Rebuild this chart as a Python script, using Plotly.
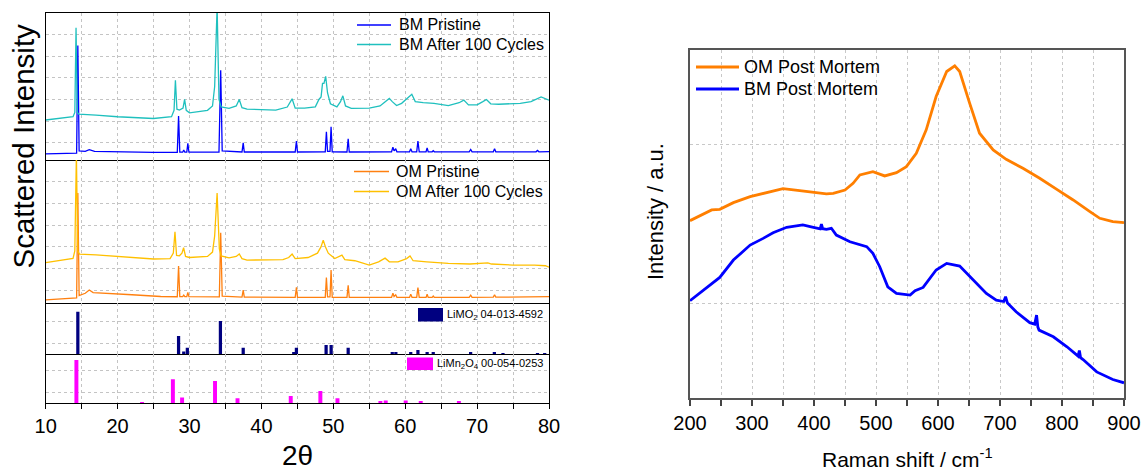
import plotly.graph_objects as go

W, H = 1146, 472
FONT = "Liberation Sans, Arial, sans-serif"

# ---------------- XRD data (2theta) ----------------
bm_pristine_x = [10, 14.3, 14.47, 14.65, 15.5, 16.06, 16.8, 20, 25, 28.3, 28.48, 28.65, 29.05, 29.2, 29.35, 29.62, 29.77, 29.92,
                 34.1, 34.34, 34.55, 37.3, 37.47, 37.62, 44.7, 44.87, 45.02, 48.88, 49.04, 49.2, 49.54, 49.69, 49.85,
                 51.9, 52.07, 52.22, 58.1, 58.29, 58.45, 58.68, 58.85, 60.6, 60.77, 60.95, 61.6, 61.77, 61.95,
                 62.9, 63.05, 63.2, 63.75, 63.9, 64.05, 68.9, 69.11, 69.3, 72.25, 72.43, 72.6, 78.2, 78.4, 78.6, 80]
bm_pristine_y = [0.48, 0.52, 5.50, 0.62, 0.6, 0.68, 0.6, 0.57, 0.55, 0.55, 2.23, 0.56, 0.56, 0.66, 0.56, 0.56, 0.97, 0.56,
                 0.57, 4.35, 0.62, 0.57, 1.0, 0.57, 0.57, 1.08, 0.57, 0.58, 1.51, 0.6, 0.6, 1.74, 0.58,
                 0.57, 1.18, 0.57, 0.58, 0.79, 0.62, 0.72, 0.58, 0.58, 0.72, 0.58, 0.58, 1.08, 0.58,
                 0.58, 0.76, 0.58, 0.58, 0.63, 0.58, 0.58, 0.69, 0.58, 0.58, 0.72, 0.58, 0.58, 0.64, 0.58, 0.59]

bm_cycled_x = [10, 12, 13.8, 14.05, 14.22, 14.4, 14.6, 17, 20, 25, 27.5, 27.85, 28.04, 28.25, 28.6, 29.1, 29.32, 29.55, 30,
               32.5, 33.2, 33.5, 33.84, 34.1, 34.4, 35.5, 36.5, 36.92, 37.3, 38, 42, 43.6, 44.27, 44.7, 46, 47.5, 48.0,
               48.3, 48.5, 48.7, 48.94, 49.2, 49.6, 50.5, 51.0, 51.33, 51.7, 52.5, 55, 56.5, 57.5, 57.79, 58.2, 58.8,
               59.5, 60.5, 60.92, 61.4, 62.5, 64, 66, 67.5, 68.15, 68.8, 70, 70.8, 71.3, 71.9, 73, 76, 77.5, 78.9, 79.5, 80]
bm_cycled_y = [2.05, 2.12, 2.2, 2.4, 6.32, 2.4, 2.32, 2.28, 2.2, 2.12, 2.2, 2.5, 3.89, 2.55, 2.51, 2.6, 3.0, 2.5, 2.38,
               2.5, 2.7, 3.6, 7.3, 3.0, 2.66, 2.59, 2.7, 3.0, 2.62, 2.55, 2.51, 2.65, 3.03, 2.6, 2.6, 2.66, 3.0,
               3.12, 3.74, 3.74, 4.07, 3.3, 2.8, 2.66, 2.9, 3.17, 2.7, 2.59, 2.6, 2.7, 3.0, 3.05, 2.9, 2.72,
               2.82, 3.1, 3.24, 2.9, 2.85, 2.82, 2.72, 2.85, 2.97, 2.75, 2.75, 2.9, 3.0, 2.8, 2.78, 2.82, 2.9, 3.12, 3.05, 2.97]

om_pristine_x = [10, 13, 14.3, 14.47, 14.65, 15.5, 16.06, 16.6, 18, 22, 26, 28.3, 28.48, 28.65, 29.05, 29.2, 29.35, 29.62, 29.77, 29.92,
                 34.15, 34.34, 34.55, 37.3, 37.47, 37.62, 44.7, 44.87, 45.02, 48.88, 49.04, 49.2, 49.54, 49.69, 49.85,
                 51.9, 52.07, 52.22, 58.1, 58.29, 58.45, 58.68, 58.85, 60.6, 60.77, 60.95, 61.6, 61.77, 61.95,
                 62.9, 63.05, 63.2, 63.75, 63.9, 64.05, 68.9, 69.11, 69.3, 72.25, 72.43, 72.6, 80]
om_pristine_y = [0.54, 0.6, 0.64, 5.48, 0.74, 0.85, 1.0, 0.88, 0.86, 0.78, 0.7, 0.69, 2.11, 0.69, 0.69, 0.76, 0.69, 0.69, 0.89, 0.69,
                 0.68, 3.64, 0.72, 0.67, 1.0, 0.67, 0.66, 1.12, 0.66, 0.66, 1.57, 0.68, 0.68, 1.92, 0.66,
                 0.66, 1.22, 0.66, 0.66, 0.85, 0.7, 0.78, 0.66, 0.66, 0.8, 0.66, 0.66, 1.11, 0.66,
                 0.66, 0.8, 0.66, 0.66, 0.72, 0.66, 0.66, 0.76, 0.66, 0.67, 0.78, 0.67, 0.69]

om_cycled_x = [10, 12, 13.8, 14.05, 14.27, 14.45, 14.7, 17, 20, 25, 27.3, 27.75, 27.98, 28.2, 28.6, 28.95, 29.18, 29.45, 30,
               32.5, 33.2, 33.5, 33.84, 34.15, 34.4, 35.5, 36.5, 36.92, 37.3, 38, 43, 43.8, 44.27, 44.7, 46.5, 47.8, 48.3,
               48.6, 48.9, 49.3, 50.2, 50.9, 51.2, 51.6, 53, 55, 56.3, 57.2, 57.8, 59, 60.2, 60.67, 61.1, 63, 66, 69,
               71.5, 72, 75, 78, 79.5, 80]
om_cycled_y = [2.26, 2.36, 2.46, 2.8, 7.3, 2.8, 2.66, 2.62, 2.55, 2.43, 2.45, 2.7, 3.69, 2.6, 2.58, 2.7, 2.95, 2.55, 2.5,
               2.55, 2.75, 3.5, 5.48, 2.9, 2.57, 2.48, 2.55, 2.66, 2.45, 2.38, 2.4, 2.5, 2.66, 2.45, 2.5, 2.7, 3.0,
               3.30, 3.0, 2.7, 2.45, 2.55, 2.61, 2.4, 2.35, 2.15, 2.3, 2.47, 2.3, 2.3, 2.45, 2.57, 2.35, 2.3, 2.23, 2.2,
               2.25, 2.2, 2.15, 2.15, 2.12, 2.05]

limo2_pos = [14.47, 28.48, 29.2, 29.7, 34.3, 37.47, 44.5, 44.87, 49.0, 49.7, 52.07, 58.2, 58.7, 60.77, 61.77, 63.05, 63.9,
             69.1, 72.4, 73.6, 78.4, 79.4]
limo2_int = [1.95, 0.83, 0.11, 0.29, 1.52, 0.29, 0.06, 0.29, 0.41, 0.41, 0.29, 0.08, 0.08, 0.05, 0.18, 0.08, 0.05,
             0.05, 0.08, 0.03, 0.03, 0.04]

limn2o4_pos = [14.27, 23.4, 27.69, 28.97, 33.55, 36.68, 44.08, 48.2, 50.58, 56.55, 57.29, 60.07, 62.16, 67.47]
limn2o4_int = [1.98, 0.03, 1.09, 0.25, 1.01, 0.22, 0.32, 0.55, 0.22, 0.09, 0.11, 0.11, 0.09, 0.07]

# ---------------- Raman data ----------------
om_pm_x = [200, 235, 248, 270, 297, 324, 350, 377, 399, 420, 431, 450, 463, 474, 495, 514, 533, 549, 565, 581, 597, 614, 627,
           635, 651, 667, 689, 710, 737, 764, 791, 818, 845, 861, 882, 900]
om_pm_y = [0.521, 0.589, 0.593, 0.635, 0.673, 0.698, 0.724, 0.711, 0.698, 0.690, 0.694, 0.715, 0.757, 0.810, 0.831, 0.804,
           0.825, 0.863, 0.947, 1.095, 1.306, 1.464, 1.500, 1.464, 1.264, 1.074, 0.968, 0.909, 0.852, 0.789, 0.720, 0.652,
           0.578, 0.536, 0.515, 0.508]

bm_pm_x = [200, 227, 248, 270, 297, 318, 334, 356, 382, 399, 410, 412, 414, 420, 428, 436, 458, 485, 495, 506, 519, 533, 555,
           563, 576, 597, 614, 635, 657, 678, 694, 706, 709, 712, 726, 748, 756, 759, 761, 763, 786, 808, 826, 828, 830,
           834, 856, 882, 900]
bm_pm_y = [0.015, 0.099, 0.162, 0.272, 0.367, 0.409, 0.445, 0.479, 0.494, 0.479, 0.47, 0.50, 0.47, 0.466, 0.473, 0.430,
           0.388, 0.357, 0.314, 0.230, 0.103, 0.061, 0.051, 0.078, 0.099, 0.209, 0.251, 0.234, 0.146, 0.061, 0.019, 0.01,
           0.04, 0.0, -0.055, -0.124, -0.133, -0.076, -0.15, -0.171, -0.213, -0.276, -0.335, -0.300, -0.345, -0.357,
           -0.435, -0.483, -0.504]

xticks_xrd = [10, 20, 30, 40, 50, 60, 70, 80]
xticks_raman = [200, 300, 400, 500, 600, 700, 800, 900]

# colors
C_BM = "#0000FF"
C_BMC = "#1FC0BE"
C_OM = "#FF8010"
C_OMC = "#FFC000"
C_NAVY = "#000080"
C_MAG = "#FF00FF"
C_OM_PM = "#FF7F00"

def pxx(x):
    return x / W

def pyy(y):
    return 1 - y / H

fig = go.Figure()

# XRD traces
fig.add_trace(go.Scatter(x=bm_pristine_x, y=bm_pristine_y, mode="lines", line=dict(color=C_BM, width=1.3),
                         xaxis="x", yaxis="y", name="BM Pristine"))
fig.add_trace(go.Scatter(x=bm_cycled_x, y=bm_cycled_y, mode="lines", line=dict(color=C_BMC, width=1.3),
                         xaxis="x", yaxis="y", name="BM After 100 Cycles"))
fig.add_trace(go.Scatter(x=om_pristine_x, y=om_pristine_y, mode="lines", line=dict(color=C_OM, width=1.3),
                         xaxis="x2", yaxis="y2", name="OM Pristine"))
fig.add_trace(go.Scatter(x=om_cycled_x, y=om_cycled_y, mode="lines", line=dict(color=C_OMC, width=1.3),
                         xaxis="x2", yaxis="y2", name="OM After 100 Cycles"))
fig.add_trace(go.Bar(x=limo2_pos, y=limo2_int, width=0.45, marker=dict(color=C_NAVY, line=dict(width=0)),
                     xaxis="x3", yaxis="y3", name="LiMO2"))
fig.add_trace(go.Bar(x=limn2o4_pos, y=limn2o4_int, width=0.55, marker=dict(color=C_MAG, line=dict(width=0)),
                     xaxis="x4", yaxis="y4", name="LiMn2O4"))

# Raman traces
fig.add_trace(go.Scatter(x=om_pm_x, y=om_pm_y, mode="lines", line=dict(color=C_OM_PM, width=2.8),
                         xaxis="x5", yaxis="y5", name="OM Post Mortem"))
fig.add_trace(go.Scatter(x=bm_pm_x, y=bm_pm_y, mode="lines", line=dict(color=C_BM, width=2.8),
                         xaxis="x5", yaxis="y5", name="BM Post Mortem"))

GRID = "#c4c4c4"
left_dom = [pxx(45.7), pxx(549)]
panels = {
    1: (160, 13, [0.2, 7.0], [1, 2, 3, 4, 5, 6]),
    2: (303, 160, [0.4, 7.0], [1, 2, 3, 4, 5, 6]),
    3: (354, 303, [0, 2.35], [0.5, 1.5]),
    4: (403, 354, [0, 2.26], [0.5, 1.5]),
}

layout = dict(
    width=W, height=H, margin=dict(l=0, r=0, t=0, b=0, autoexpand=False),
    paper_bgcolor="white", plot_bgcolor="white", showlegend=False,
    font=dict(family=FONT, color="black"), barmode="overlay",
)

for i, (ybot, ytop, yr, yt) in panels.items():
    xs = "xaxis" if i == 1 else f"xaxis{i}"
    ys = "yaxis" if i == 1 else f"yaxis{i}"
    bottom = (i == 4)
    layout[xs] = dict(
        domain=left_dom, range=[10, 80], anchor="y" if i == 1 else f"y{i}", automargin=False,
        tickmode="array", tickvals=xticks_xrd, showticklabels=bottom,
        ticks="outside" if bottom else "", ticklen=5, tickwidth=1.2, tickcolor="black",
        tickfont=dict(size=20, family=FONT, color="black"),
        showgrid=False, zeroline=False, showline=True, mirror=(i == 1), linecolor="black", linewidth=1.3,
        minor=dict(tick0=10, dtick=5, showgrid=True, griddash="dot", gridcolor=GRID, gridwidth=1,
                   ticks="outside" if bottom else "", ticklen=5, tickwidth=1.2, tickcolor="black"),
    )
    if i != 1:
        layout[xs]["matches"] = "x"
    layout[ys] = dict(
        domain=[pyy(ybot), pyy(ytop)], range=yr, anchor="x" if i == 1 else f"x{i}", automargin=False,
        tickmode="array", tickvals=yt, showticklabels=False, ticks="",
        showgrid=True, griddash="dot", gridcolor=GRID, gridwidth=1,
        zeroline=False, showline=True, mirror=True, linecolor="black", linewidth=1.3,
    )

RGRID = "#c8c8c8"
layout["xaxis5"] = dict(
    domain=[pxx(690), pxx(1124)], range=[200, 900], anchor="y5", automargin=False,
    tickmode="array", tickvals=xticks_raman, ticks="outside", ticklen=6, tickwidth=1.5, tickcolor="#444",
    tickfont=dict(size=20, family=FONT, color="black"),
    showgrid=False, zeroline=False, showline=True, mirror=True, linecolor="#555", linewidth=2,
    minor=dict(tick0=200, dtick=50, showgrid=True, griddash="dot", gridcolor=RGRID, gridwidth=1,
               ticks="outside", ticklen=6, tickwidth=1.5, tickcolor="#444"),
)
layout["yaxis5"] = dict(
    domain=[pyy(398), pyy(50)], range=[-0.6, 1.6], anchor="x5", automargin=False,
    tickmode="array", tickvals=[0, 1], showticklabels=False, ticks="",
    showgrid=True, griddash="dot", gridcolor=RGRID, gridwidth=1,
    zeroline=False, showline=True, mirror=True, linecolor="#555", linewidth=2,
)

annotations = []
shapes = []

def label(x, y, text, size, anchor="left", angle=0):
    annotations.append(dict(x=pxx(x), y=pyy(y), xref="paper", yref="paper", text=text, showarrow=False,
                            xanchor=anchor, yanchor="middle", textangle=angle,
                            font=dict(size=size, family=FONT, color="black")))

def legline(x0, x1, y, color, width):
    shapes.append(dict(type="line", xref="paper", yref="paper", x0=pxx(x0), x1=pxx(x1), y0=pyy(y), y1=pyy(y),
                       line=dict(color=color, width=width)))

def legrect(x0, x1, y0, y1, color):
    shapes.append(dict(type="rect", xref="paper", yref="paper", x0=pxx(x0), x1=pxx(x1), y0=pyy(y0), y1=pyy(y1),
                       fillcolor=color, line=dict(width=0)))

# Left legends
legline(357, 391, 25, C_BM, 1.5)
label(397, 25, "BM Pristine", 16)
legline(357, 391, 44.5, C_BMC, 1.5)
label(397, 44.5, "BM After 100 Cycles", 16)
legline(354, 389, 171.5, C_OM, 1.5)
label(394, 171.5, "OM Pristine", 16)
legline(354, 389, 191.5, C_OMC, 1.5)
label(394, 191.5, "OM After 100 Cycles", 16)
legrect(418, 443, 308, 321.5, C_NAVY)
label(445, 315, "LiMO<sub>2</sub> 04-013-4592", 11)
legrect(407, 433, 357.5, 370, C_MAG)
label(435, 364, "LiMn<sub>2</sub>O<sub>4</sub> 00-054-0253", 11)

# Right legend
legline(696, 739, 67, C_OM_PM, 3)
label(742, 67, "OM Post Mortem", 18)
legline(696, 739, 89, C_BM, 3)
label(742, 89, "BM Post Mortem", 18)

# Axis titles
label(23, 146.5, "Scattered Intensity", 29.5, anchor="center", angle=-90)
label(297, 455, "2θ", 28, anchor="center")
label(655, 212, "Intensity / a.u.", 22, anchor="center", angle=-90)
label(907, 458, "Raman shift / cm<sup>-1</sup>", 21, anchor="center")

layout["annotations"] = annotations
layout["shapes"] = shapes

fig.update_layout(**layout)
fig.write_html("out.html")
